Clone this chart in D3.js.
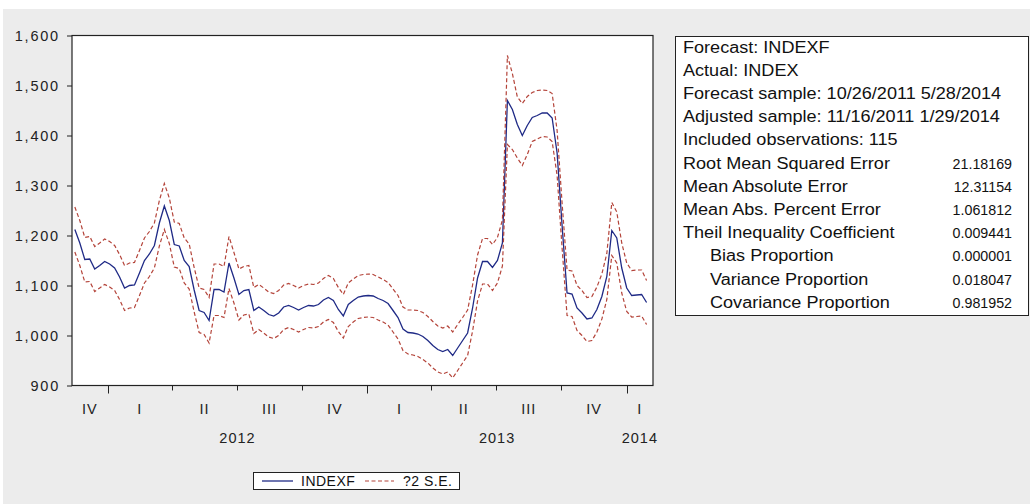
<!DOCTYPE html>
<html>
<head>
<meta charset="utf-8">
<script src="https://cdn.jsdelivr.net/npm/d3@7"></script>
<style>
  html, body { margin: 0; padding: 0; background: #ffffff; }
  svg { display: block; font-family: "Liberation Sans", Arial, sans-serif; }
</style>
</head>
<body>
<div id="wrapper"></div>
<script>
// sample definition (weekly, adjusted sample)
const sampleStart = "2011-11-16"
const sampleWeeks = 116

// INDEXF forecast
const indexf = [
  1212, 1185, 1152, 1153, 1133, 1140, 1148, 1143, 1135, 1117,
  1095, 1100, 1101, 1125, 1150, 1163, 1180, 1225, 1259, 1230,
  1182, 1179, 1150, 1138, 1091, 1050, 1046, 1030, 1092, 1092,
  1087, 1145, 1115, 1082, 1090, 1092, 1050, 1057, 1050, 1042,
  1039, 1045, 1057, 1060, 1056, 1051, 1056, 1060, 1059, 1062,
  1071, 1076, 1070, 1052, 1039, 1062, 1070, 1077, 1079, 1080,
  1079, 1074, 1070, 1064, 1050, 1036, 1013, 1006, 1005, 1003,
  998, 990, 980, 972, 968, 972, 960, 975, 990, 1005,
  1055, 1115, 1148, 1148, 1136, 1150, 1185, 1470, 1452, 1422,
  1400, 1420, 1436, 1440, 1445, 1445, 1435, 1365, 1220, 1085,
  1083, 1055, 1045, 1033, 1035, 1052, 1078, 1118, 1210, 1195,
  1135, 1095, 1080, 1081, 1082, 1066
]

// +2 S.E. band
const upperSE = [
  1257, 1230, 1196, 1198, 1178, 1185, 1193, 1188, 1180, 1162,
  1140, 1145, 1146, 1170, 1195, 1208, 1225, 1270, 1304, 1275,
  1227, 1224, 1195, 1183, 1136, 1095, 1092, 1076, 1143, 1143,
  1138, 1198, 1166, 1133, 1138, 1140, 1096, 1102, 1095, 1087,
  1084, 1090, 1101, 1104, 1100, 1095, 1100, 1103, 1102, 1105,
  1114, 1120, 1114, 1096, 1082, 1105, 1113, 1120, 1122, 1123,
  1122, 1117, 1112, 1106, 1093, 1080, 1057, 1051, 1051, 1050,
  1046, 1038, 1028, 1019, 1015, 1019, 1007, 1022, 1036, 1051,
  1101, 1161, 1194, 1194, 1182, 1196, 1231, 1560, 1524, 1477,
  1464, 1478, 1486, 1490, 1491, 1490, 1484, 1410, 1265, 1131,
  1129, 1100, 1090, 1076, 1078, 1097, 1123, 1164, 1266, 1247,
  1185, 1145, 1130, 1131, 1131, 1110
]

// -2 S.E. band
const lowerSE = [
  1167, 1140, 1107, 1108, 1088, 1095, 1102, 1097, 1090, 1072,
  1050, 1055, 1056, 1080, 1105, 1118, 1135, 1179, 1212, 1184,
  1137, 1134, 1105, 1093, 1047, 1006, 1002, 985, 1040, 1040,
  1036, 1094, 1065, 1031, 1041, 1043, 1004, 1012, 1005, 997,
  994, 1000, 1012, 1016, 1012, 1007, 1012, 1016, 1015, 1018,
  1027, 1032, 1026, 1008, 995, 1018, 1027, 1034, 1036, 1037,
  1036, 1031, 1027, 1021, 1007, 993, 970, 963, 961, 958,
  952, 945, 935, 927, 923, 927, 915, 930, 945, 960,
  1009, 1069, 1103, 1103, 1090, 1105, 1139, 1382, 1372, 1355,
  1340, 1362, 1388, 1393, 1398, 1397, 1388, 1320, 1175, 1040,
  1038, 1010, 1000, 988, 990, 1007, 1033, 1072, 1160, 1145,
  1085, 1048, 1037, 1038, 1039, 1022
]

// axis labels
const yTicks = [900, 1000, 1100, 1200, 1300, 1400, 1500, 1600]
const quarterNames = ["I", "II", "III", "IV"]
const years = [2012, 2013, 2014]

// statistics box
const statLabels = [
  "Forecast: INDEXF",
  "Actual: INDEX",
  "Forecast sample: 10/26/2011 5/28/2014",
  "Adjusted sample: 11/16/2011 1/29/2014",
  "Included observations: 115",
  "Root Mean Squared Error",
  "Mean Absolute Error",
  "Mean Abs. Percent Error",
  "Theil Inequality Coefficient",
  "Bias Proportion",
  "Variance Proportion",
  "Covariance Proportion"
]
const statValues = ["", "", "", "", "", "21.18169", "12.31154", "1.061812",
  "0.009441", "0.000001", "0.018047", "0.981952"]
const statIndent = [0, 0, 0, 0, 0, 0, 0, 0, 0, 1, 1, 1]

const legendNames = ["INDEXF", "?2 S.E."]

async function drawChart() {
  const parseDate = d3.timeParse("%Y-%m-%d")
  const start = parseDate(sampleStart)
  const dates = d3.range(sampleWeeks).map(i => d3.timeDay.offset(start, 7 * i))

  const dimensions = {
    width: 1030,
    height: 504,
    plot: { left: 72, right: 653, top: 35.5, bottom: 385.5 },
  }
  const p = dimensions.plot

  const wrapper = d3.select("#wrapper")
    .append("svg")
      .attr("width", dimensions.width)
      .attr("height", dimensions.height)

  // gray window background
  wrapper.append("rect")
    .attr("x", 3)
    .attr("y", 9)
    .attr("width", dimensions.width - 3)
    .attr("height", dimensions.height - 9)
    .attr("fill", "#ececec")

  // scales
  const xScale = d3.scaleTime()
    .domain([new Date(2011, 10, 12), new Date(2014, 1, 7)])
    .range([p.left, p.right])

  const yScale = d3.scaleLinear()
    .domain([900, 1600])
    .range([p.bottom, p.top])

  // plot area
  wrapper.append("rect")
    .attr("x", p.left)
    .attr("y", p.top)
    .attr("width", p.right - p.left)
    .attr("height", p.bottom - p.top)
    .attr("fill", "#ffffff")

  // y axis
  const yAxis = wrapper.append("g")
    .attr("transform", `translate(${p.left},0)`)
    .call(d3.axisLeft(yScale)
      .tickValues(yTicks)
      .tickFormat(d3.format(","))
      .tickSize(5)
      .tickPadding(7))
  yAxis.select(".domain").remove()
  yAxis.selectAll("line").attr("stroke", "#222")
  yAxis.selectAll("text")
    .attr("fill", "#222")
    .style("font-size", "14.5px")
    .style("letter-spacing", "1.8px")
    .style("font-family", "'Liberation Sans', Arial, sans-serif")

  // x axis: quarter boundaries
  const [d0, d1] = xScale.domain()
  const quarterStarts = d3.timeMonth.every(3).range(d0, d1)
  const xAxis = wrapper.append("g")
    .attr("transform", `translate(0,${p.bottom})`)
  xAxis.selectAll("line")
    .data(quarterStarts)
    .join("line")
      .attr("x1", d => Math.round(xScale(d)) + 0.5)
      .attr("x2", d => Math.round(xScale(d)) + 0.5)
      .attr("y1", 0)
      .attr("y2", d => d.getMonth() === 0 ? 8 : 5)
      .attr("stroke", "#222")

  // quarter labels, centred within each (clipped) quarter
  const quarters = d3.timeMonth.every(3).range(d3.timeMonth.every(3).floor(d0), d1)
  xAxis.selectAll(".q")
    .data(quarters)
    .join("text")
      .attr("class", "q")
      .attr("x", d => {
        const a = Math.max(xScale(d), p.left)
        const b = Math.min(xScale(d3.timeMonth.offset(d, 3)), p.right)
        return (a + b) / 2
      })
      .attr("y", 28)
      .attr("text-anchor", "middle")
      .style("font-size", "14.5px")
      .style("letter-spacing", "1px")
      .attr("fill", "#222")
      .text(d => quarterNames[Math.floor(d.getMonth() / 3)])

  // year labels
  xAxis.selectAll(".yr")
    .data(years)
    .join("text")
      .attr("class", "yr")
      .attr("x", d => {
        const a = Math.max(xScale(new Date(d, 0, 1)), p.left)
        const b = Math.min(xScale(new Date(d + 1, 0, 1)), p.right)
        return (a + b) / 2
      })
      .attr("y", 57)
      .attr("text-anchor", "middle")
      .style("font-size", "14.5px")
      .style("letter-spacing", "1px")
      .attr("fill", "#222")
      .text(d => d)

  // lines
  const lineGen = values => d3.line()
    .x((d, i) => xScale(dates[i]))
    .y(d => yScale(d))(values)

  const lines = wrapper.append("g")

  lines.append("path")
    .attr("d", lineGen(indexf))
    .attr("fill", "none")
    .attr("stroke", "#1f2a86")
    .attr("stroke-width", 1.3)

  ;[upperSE, lowerSE].forEach(series => {
    lines.append("path")
      .attr("d", lineGen(series))
      .attr("fill", "none")
      .attr("stroke", "#b4443a")
      .attr("stroke-width", 1.2)
      .attr("stroke-dasharray", "4,2.5")
  })

  // frame on top
  wrapper.append("rect")
    .attr("x", p.left)
    .attr("y", p.top)
    .attr("width", p.right - p.left)
    .attr("height", p.bottom - p.top)
    .attr("fill", "none")
    .attr("stroke", "#222")
    .attr("stroke-width", 1.2)

  // statistics box
  const stats = wrapper.append("g")
  stats.append("rect")
    .attr("x", 675.5)
    .attr("y", 36.5)
    .attr("width", 353)
    .attr("height", 279)
    .attr("fill", "#ffffff")
    .attr("stroke", "#222")
  stats.selectAll(".lbl")
    .data(statLabels)
    .join("text")
      .attr("class", "lbl")
      .attr("transform", (d, i) =>
        `translate(${683 + statIndent[i] * 27},${52.5 + i * 23.2}) scale(1.13,1)`)
      .style("font-size", "16px")
      .attr("fill", "#111")
      .text(d => d)
  stats.selectAll(".val")
    .data(statValues)
    .join("text")
      .attr("class", "val")
      .attr("transform", (d, i) => `translate(1012,${52.5 + i * 23.2}) scale(0.92,1)`)
      .attr("text-anchor", "end")
      .style("font-size", "15.5px")
      .attr("fill", "#111")
      .text(d => d)

  // legend
  const legend = wrapper.append("g")
  legend.append("rect")
    .attr("x", 253.5)
    .attr("y", 472.5)
    .attr("width", 206)
    .attr("height", 17)
    .attr("fill", "#ffffff")
    .attr("stroke", "#222")
  legend.append("line")
    .attr("x1", 262).attr("x2", 293)
    .attr("y1", 481).attr("y2", 481)
    .attr("stroke", "#1f2a86")
    .attr("stroke-width", 1.3)
  legend.append("line")
    .attr("x1", 365).attr("x2", 394)
    .attr("y1", 481).attr("y2", 481)
    .attr("stroke", "#b4443a")
    .attr("stroke-width", 1.2)
    .attr("stroke-dasharray", "4,2.5")
  legend.selectAll(".lg")
    .data(legendNames)
    .join("text")
      .attr("class", "lg")
      .attr("x", (d, i) => i === 0 ? 301 : 403)
      .attr("y", 486)
      .style("font-size", "14px")
      .style("letter-spacing", "0.5px")
      .attr("fill", "#111")
      .text(d => d)
}

drawChart()
</script>
</body>
</html>
